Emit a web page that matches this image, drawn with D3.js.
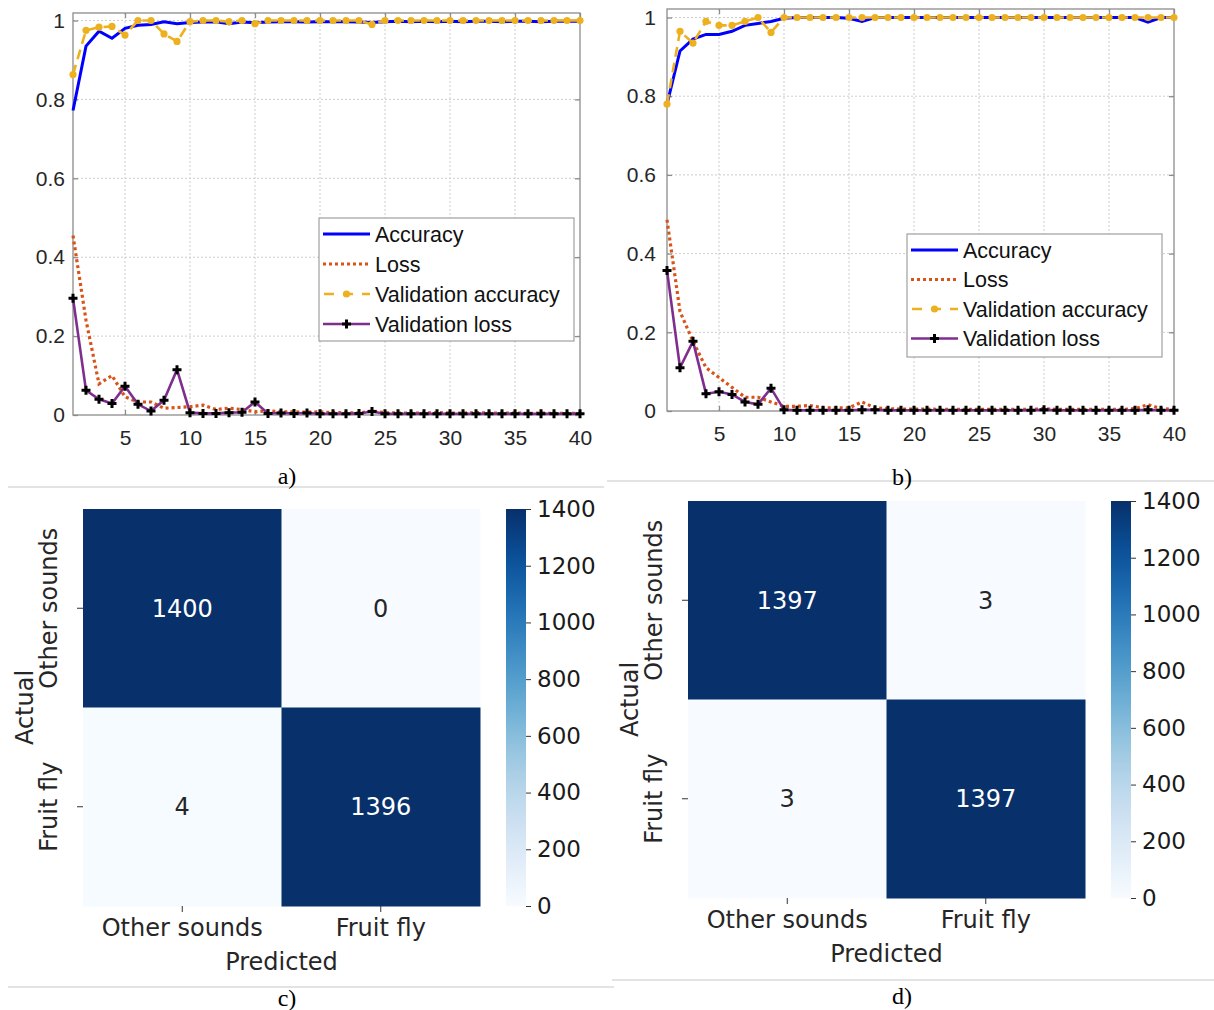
<!DOCTYPE html>
<html><head><meta charset="utf-8">
<script src="https://cdn.jsdelivr.net/npm/d3@7"></script>
<style>body{margin:0;background:#fff}</style>
</head><body>
<svg id="chart" width="1214" height="1010" xmlns="http://www.w3.org/2000/svg"></svg>
<script>
// ---------- DATA ----------
const epochs = d3.range(1, 41);
const xTickValues = [5, 10, 15, 20, 25, 30, 35, 40];
const yTickValues = [0, 0.2, 0.4, 0.6, 0.8, 1];
const seriesNames = ["Accuracy", "Loss", "Validation accuracy", "Validation loss"];

// panel a)
const accA = [0.772,0.935,0.973,0.955,0.98,0.988,0.99,0.997,0.992,0.995,
  0.996,0.997,0.992,0.996,0.994,0.996,0.997,0.997,0.996,0.997,
  0.997,0.997,0.996,0.995,0.997,0.998,0.997,0.998,0.997,0.998,
  0.997,0.998,0.998,0.997,0.998,0.998,0.997,0.998,0.998,0.998];
const lossA = [0.455,0.24,0.079,0.10,0.046,0.033,0.033,0.017,0.019,0.021,
  0.025,0.014,0.017,0.014,0.008,0.011,0.008,0.008,0.007,0.008,
  0.006,0.006,0.005,0.01,0.006,0.005,0.005,0.005,0.006,0.005,
  0.005,0.006,0.005,0.005,0.005,0.004,0.005,0.004,0.004,0.004];
const valAccA = [0.863,0.975,0.983,0.985,0.963,1.0,1.0,0.966,0.947,0.997,
  1,1,0.997,1,0.992,1,1,1,1,1,
  1,1,1,0.99,1,1,1,1,1,1,
  1,1,1,1,1,1,1,1,1,1];
const valLossA = [0.296,0.0625,0.04,0.029,0.073,0.027,0.01,0.0375,0.115,0.006,
  0.004,0.004,0.006,0.007,0.033,0.004,0.005,0.004,0.005,0.003,
  0.003,0.003,0.004,0.009,0.003,0.003,0.003,0.003,0.003,0.003,
  0.003,0.003,0.003,0.003,0.003,0.003,0.003,0.003,0.003,0.003];

// panel b)
const accB = [0.78,0.915,0.945,0.957,0.957,0.965,0.98,0.985,0.99,0.998,
  1,1,1,1,0.998,0.99,1,1,1,1,
  1,1,1,1,1,1,1,1,1,1,
  1,1,1,1,1,1,1,0.988,1,1];
const lossB = [0.486,0.253,0.177,0.11,0.085,0.06,0.035,0.035,0.023,0.012,
  0.012,0.014,0.008,0.008,0.008,0.023,0.008,0.006,0.005,0.005,
  0.005,0.004,0.004,0.004,0.004,0.004,0.004,0.004,0.004,0.006,
  0.004,0.004,0.004,0.004,0.004,0.004,0.006,0.016,0.006,0.004];
const valAccB = [0.78,0.965,0.935,0.99,0.98,0.98,0.99,1.0,0.962,1.0,
  1,1,1,1,1,1,1,1,1,1,
  1,1,1,1,1,1,1,1,1,1,
  1,1,1,1,1,1,1,1,1,1];
const valLossB = [0.357,0.11,0.177,0.044,0.049,0.042,0.023,0.017,0.058,0.003,
  0.002,0.002,0.002,0.002,0.002,0.003,0.003,0.002,0.002,0.002,
  0.002,0.002,0.002,0.002,0.002,0.002,0.002,0.002,0.002,0.003,
  0.002,0.002,0.002,0.002,0.002,0.002,0.002,0.003,0.002,0.002];

// confusion matrices
const classes = ["Other sounds", "Fruit fly"];
const cmC = [[1400, 0], [4, 1396]];
const cmD = [[1397, 3], [3, 1397]];
const cbTickValues = [0, 200, 400, 600, 800, 1000, 1200, 1400];
const panelLabels = ["a)", "b)", "c)", "d)"];

// ---------- DRAWING ----------
const svg = d3.select("#chart");
const AX = "#8c8c8c", TXT = "#262626";
const FONT = "'Liberation Sans', Arial, sans-serif";
const HFONT = "'DejaVu Sans', sans-serif";
const SFONT = "'Liberation Serif', 'Times New Roman', serif";
const colors = {acc:"#0000ff", loss:"#d95319", vacc:"#edb120", vloss:"#7e2f8e"};

function plusPath(cx, cy, s){ return `M${cx-s},${cy}H${cx+s}M${cx},${cy-s}V${cy+s}`; }

function lineChart(c){
  const g = svg.append("g");
  const x = d3.scaleLinear().domain([1, 40]).range([c.L, c.R]);
  const y = d3.scaleLinear().domain([0, 1]).range([c.B, c.Y1]);
  // grid
  g.append("g").selectAll("line").data(xTickValues.filter(v=>v<40)).join("line")
    .attr("x1", d=>x(d)).attr("x2", d=>x(d)).attr("y1", c.T).attr("y2", c.B)
    .attr("stroke", "#cdcdcd").attr("stroke-width", 1).attr("stroke-dasharray", "2,2");
  g.append("g").selectAll("line").data(yTickValues.filter(v=>v>0)).join("line")
    .attr("x1", c.L).attr("x2", c.R).attr("y1", d=>y(d)).attr("y2", d=>y(d))
    .attr("stroke", "#cdcdcd").attr("stroke-width", 1).attr("stroke-dasharray", "2,2");
  // box
  g.append("rect").attr("x", c.L).attr("y", c.T).attr("width", c.R-c.L).attr("height", c.B-c.T)
    .attr("fill", "none").attr("stroke", AX).attr("stroke-width", 1.3);
  const styleAxis = sel => {
    sel.select(".domain").remove();
    sel.selectAll(".tick line").attr("stroke", AX).attr("stroke-width", 1.3);
    sel.selectAll(".tick text").attr("fill", TXT).style("font-family", FONT).style("font-size", "21px");
  };
  g.append("g").attr("transform", `translate(0,${c.B})`)
    .call(d3.axisBottom(x).tickValues(xTickValues).tickSizeInner(-5).tickSizeOuter(0).tickPadding(15).tickFormat(d3.format("d")))
    .call(styleAxis);
  g.append("g").attr("transform", `translate(0,${c.T})`)
    .call(d3.axisTop(x).tickValues(xTickValues).tickSizeInner(-5).tickSizeOuter(0).tickFormat(""))
    .call(styleAxis);
  g.append("g").attr("transform", `translate(${c.L},0)`)
    .call(d3.axisLeft(y).tickValues(yTickValues).tickSizeInner(-5).tickSizeOuter(0).tickPadding(c.yPad).tickFormat(d=>String(d)))
    .call(styleAxis);
  g.append("g").attr("transform", `translate(${c.R},0)`)
    .call(d3.axisRight(y).tickValues(yTickValues).tickSizeInner(-5).tickSizeOuter(0).tickFormat(""))
    .call(styleAxis);

  const line = d3.line().x((d,i)=>x(epochs[i])).y(d=>y(d));
  g.append("path").attr("d", line(c.acc)).attr("fill","none").attr("stroke", colors.acc).attr("stroke-width", 3);
  g.append("path").attr("d", line(c.loss)).attr("fill","none").attr("stroke", colors.loss).attr("stroke-width", 3.2).attr("stroke-dasharray","3,3");
  g.append("path").attr("d", line(c.vacc)).attr("fill","none").attr("stroke", colors.vacc).attr("stroke-width", 2.6).attr("stroke-dasharray","10,6");
  g.append("g").selectAll("circle").data(c.vacc).join("circle")
    .attr("cx", (d,i)=>x(epochs[i])).attr("cy", d=>y(d)).attr("r", 3.6).attr("fill", colors.vacc);
  g.append("path").attr("d", line(c.vloss)).attr("fill","none").attr("stroke", colors.vloss).attr("stroke-width", 2.6);
  g.append("path").attr("d", c.vloss.map((d,i)=>plusPath(x(epochs[i]), y(d), 4.5)).join(""))
    .attr("stroke", "#000").attr("stroke-width", 3).attr("fill", "none");

  // legend
  const lg = g.append("g");
  lg.append("rect").attr("x", c.lg.x).attr("y", c.lg.y).attr("width", c.lg.w).attr("height", c.lg.h)
    .attr("fill", "#fff").attr("stroke", "#a0a0a0").attr("stroke-width", 1.2);
  const keys = ["acc", "loss", "vacc", "vloss"];
  seriesNames.forEach((name, i) => {
    const yy = c.lg.y + 16 + i * c.lg.step;
    const x0 = c.lg.x + 4, x1 = c.lg.x + 51;
    const k = keys[i];
    const ln = lg.append("line").attr("x1", x0).attr("x2", x1).attr("y1", yy).attr("y2", yy).attr("stroke", colors[k]);
    if (k === "acc") ln.attr("stroke-width", 3);
    if (k === "loss") ln.attr("stroke-width", 3.2).attr("stroke-dasharray", "3,3");
    if (k === "vacc") { ln.attr("stroke-width", 2.6).attr("stroke-dasharray", "10,9").attr("x1", x0+1);
      lg.append("circle").attr("cx", (x0+x1)/2).attr("cy", yy).attr("r", 3.6).attr("fill", colors.vacc); }
    if (k === "vloss") { ln.attr("stroke-width", 2.6);
      lg.append("path").attr("d", plusPath((x0+x1)/2, yy, 4.5)).attr("stroke","#000").attr("stroke-width",3); }
    lg.append("text").attr("x", x1 + 5).attr("y", yy).attr("dy", "0.35em")
      .attr("fill", "#111").style("font-family", FONT).style("font-size", "21.5px").text(name);
  });
}

function heatmap(c){
  const g = svg.append("g");
  const x = d3.scaleBand().domain(classes).range([c.L, c.R]);
  const y = d3.scaleBand().domain(classes).range([c.T, c.B]);
  const color = d3.scaleSequential(d3.interpolateBlues).domain([0, 1400]);
  const cells = [];
  c.cm.forEach((row, i) => row.forEach((v, j) => cells.push({r: classes[i], c: classes[j], v})));
  g.selectAll("rect.cell").data(cells).join("rect").attr("class","cell")
    .attr("x", d=>x(d.c)).attr("y", d=>y(d.r)).attr("width", x.bandwidth()+0.5).attr("height", y.bandwidth()+0.5)
    .attr("fill", d=>color(d.v));
  g.selectAll("text.ann").data(cells).join("text").attr("class","ann")
    .attr("x", d=>x(d.c)+x.bandwidth()/2).attr("y", d=>y(d.r)+y.bandwidth()/2).attr("dy","0.35em")
    .attr("text-anchor","middle").attr("fill", d=> d.v > 700 ? "#fff" : TXT)
    .style("font-family", HFONT).style("font-size","24px").text(d=>d.v);
  // x ticks
  const xa = g.append("g").attr("transform", `translate(0,${c.B})`)
    .call(d3.axisBottom(x).tickSize(6).tickPadding(7));
  xa.select(".domain").remove();
  xa.selectAll(".tick line").attr("stroke", "#333").attr("stroke-width", 1);
  xa.selectAll(".tick text").attr("fill", TXT).style("font-family", HFONT).style("font-size", "24px");
  // y ticks (rotated labels)
  const ya = g.append("g").attr("transform", `translate(${c.L},0)`)
    .call(d3.axisLeft(y).tickSize(6).tickFormat(""));
  ya.select(".domain").remove();
  ya.selectAll(".tick line").attr("stroke", "#333").attr("stroke-width", 1);
  g.selectAll("text.ylab").data(classes).join("text").attr("class","ylab")
    .attr("transform", d=>`translate(${c.L-26},${y(d)+y.bandwidth()/2}) rotate(-90)`)
    .attr("text-anchor","middle").attr("fill", TXT)
    .style("font-family", HFONT).style("font-size","24px").text(d=>d);
  g.append("text").attr("x", (c.L+c.R)/2).attr("y", c.B + 56).attr("dy","0.35em").attr("text-anchor","middle")
    .attr("fill", TXT).style("font-family", HFONT).style("font-size","24px").text("Predicted");
  g.append("text").attr("transform", `translate(${c.L-58},${(c.T+c.B)/2}) rotate(-90)`).attr("dy","0.35em")
    .attr("text-anchor","middle").attr("fill", TXT).style("font-family", HFONT).style("font-size","24px").text("Actual");
  // colorbar
  const gid = "grad" + c.id;
  const grad = svg.append("defs").append("linearGradient").attr("id", gid)
    .attr("x1","0").attr("y1","1").attr("x2","0").attr("y2","0");
  d3.range(0, 1.0001, 0.05).forEach(t => grad.append("stop").attr("offset", t).attr("stop-color", color(t*1400)));
  g.append("rect").attr("x", c.cbX).attr("y", c.T).attr("width", 20).attr("height", c.B - c.T).attr("fill", `url(#${gid})`);
  const cb = d3.scaleLinear().domain([0, 1400]).range([c.B, c.T]);
  const ca = g.append("g").attr("transform", `translate(${c.cbX+20},0)`)
    .call(d3.axisRight(cb).tickValues(cbTickValues).tickSize(5).tickPadding(6).tickFormat(d3.format("d")));
  ca.select(".domain").remove();
  ca.selectAll(".tick line").attr("stroke", "#333").attr("stroke-width", 1);
  ca.selectAll(".tick text").attr("fill", "#1a1a1a").style("font-family", HFONT).style("font-size", "23px");
}

lineChart({L:73, R:580, T:13, B:415, Y1:20.5, yPad:8,
  acc:accA, loss:lossA, vacc:valAccA, vloss:valLossA,
  lg:{x:319, y:218, w:255, h:123, step:30}});
lineChart({L:667, R:1174, T:9, B:411, Y1:17.5, yPad:11,
  acc:accB, loss:lossB, vacc:valAccB, vloss:valLossB,
  lg:{x:907, y:234, w:255, h:123, step:29.5}});
heatmap({id:"c", L:83, R:480, T:509, B:906, cbX:506, cm:cmC});
heatmap({id:"d", L:688, R:1085, T:501, B:898, cbX:1111, cm:cmD});

// separators
const sep = svg.append("g").attr("stroke", "#c8c8c8").attr("stroke-width", 1.2);
sep.append("line").attr("x1", 8).attr("x2", 604).attr("y1", 487).attr("y2", 487);
sep.append("line").attr("x1", 607).attr("x2", 1214).attr("y1", 481).attr("y2", 481);
sep.append("line").attr("x1", 8).attr("x2", 614).attr("y1", 987).attr("y2", 987);
sep.append("line").attr("x1", 612).attr("x2", 1214).attr("y1", 980).attr("y2", 980);

// panel labels
const labPos = [[287, 476], [902, 477], [287, 998], [902, 996]];
svg.selectAll("text.plab").data(panelLabels).join("text").attr("class","plab")
  .attr("x", (d,i)=>labPos[i][0]).attr("y", (d,i)=>labPos[i][1]).attr("dy","0.35em")
  .attr("text-anchor","middle").attr("fill","#000")
  .style("font-family", SFONT).style("font-size","24px").text(d=>d);
</script>
</body></html>
